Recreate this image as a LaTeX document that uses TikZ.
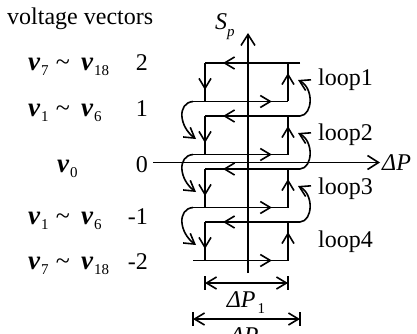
\documentclass[tikz,border=0pt]{standalone}
\usepackage{fontspec}
\setmainfont{Liberation Serif}
\usetikzlibrary{arrows.meta,decorations.markings}
\newcommand\vsub[1]{{\fontsize{27}{28}\selectfont\bfseries\itshape v}\kern1pt\raisebox{-5pt}{\fontsize{15}{16}\selectfont #1}}
\tikzset{
  >={Straight Barb[length=10pt,width=12pt]},
  ln/.style={line width=1.6pt},
  midtip/.style={postaction={decorate,decoration={markings,mark=at position #1 with {\arrow{>}}}}},
  lbl/.style={inner sep=0pt,font=\fontsize{24}{26}\selectfont},
}
\begin{document}
\begin{tikzpicture}[x=1pt,y=-1pt]
\useasboundingbox (0,0) rectangle (417,334);
\clip (0,0) rectangle (417,334);
% axes
\coordinate (yb) at (248,273);
\coordinate (yt) at (248,33);
\coordinate (xl) at (153,162.5);
\coordinate (xr) at (380,162.5);
\draw[ln,->,>={Straight Barb[length=11pt,width=14pt]}] (yb) -- (yt);
\draw[ln,->,>={Straight Barb[length=11pt,width=14pt]}] (xl) -- (xr);
\node[lbl,anchor=base west] (sp) at (215,30) {\textit{S}\raisebox{-7pt}{\fontsize{15}{16}\selectfont\textit{p}}};
\node[lbl,anchor=base west] (dp) at (382,170) {\textit{ΔP}};
% loops
\foreach \T/\B/\n in {63/101.5/1,116/154.5/2,169/207.5/3,222/260.5/4}{
  \coordinate (ul\n) at (300,\T);
  \coordinate (tl\n) at (205,\T);
  \coordinate (bl\n) at (205,\B);
  \coordinate (le\n) at (193,\B);
  \coordinate (br\n) at (288,\B);
  \coordinate (tr\n) at (288,\T);
  \draw[ln,midtip=0.81] (ul\n) -- (tl\n);
  \draw[ln,midtip=0.70] (tl\n) -- (bl\n);
  \draw[ln,midtip=0.83] (le\n) -- (br\n);
  \draw[ln,midtip=0.74] (br\n) -- (tr\n);
}
% jump arrows
\foreach \B in {101.5,154.5,207.5}{
  \draw[ln,->] (193,\B) .. controls (177,\B+1.5) and (179,\B+25) .. (196,\B+37.5);
}
\foreach \T in {116,169,222}{
  \draw[ln,->] (300,\T) .. controls (313,\T-1) and (314,\T-28) .. (298,\T-36);
}
% loop labels
\node[lbl,anchor=base west] (lp1) at (318,86) {loop1};
\node[lbl,anchor=base west] (lp2) at (318,140) {loop2};
\node[lbl,anchor=base west] (lp3) at (318,194) {loop3};
\node[lbl,anchor=base west] (lp4) at (318,247) {loop4};
% dimensions
\coordinate (d1l) at (205,283);
\coordinate (d1r) at (288,283);
\draw[ln,<->] (d1l) -- (d1r);
\draw[ln] (205,276) -- (205,290) (288,276) -- (288,290);
\node[lbl,anchor=base] (d1) at (246,307) {\textit{ΔP}\kern2pt\raisebox{-6pt}{\fontsize{15}{16}\selectfont 1}};
\coordinate (d2l) at (193,319);
\coordinate (d2r) at (300,319);
\draw[ln,<->] (d2l) -- (d2r);
\draw[ln] (193,312) -- (193,326) (300,312) -- (300,326);
\node[lbl,anchor=base] (d2) at (249,343) {\textit{ΔP}\kern2pt\raisebox{-6pt}{\fontsize{15}{16}\selectfont 2}};
% left labels
\node[lbl,anchor=base west] (title) at (7,25) {voltage vectors};
\foreach \y/\a/\b/\num/\nm in {71/7/18/2/r2,117/1/6/1/r1,224/1/6/-1/rm1,269/7/18/-2/rm2}{
  \node[lbl,anchor=base west] (\nm a) at (28,\y) {\vsub{\a}};
  \node[lbl,anchor=base,font=\fontsize{26}{26}\selectfont] (\nm t) at (63,\y) {\textasciitilde};
  \node[lbl,anchor=base west] (\nm b) at (81,\y) {\vsub{\b}};
  \node[lbl,anchor=base east] (\nm n) at (148,\y) {\num};
}
\node[lbl,anchor=base west] (r0a) at (57,172) {\vsub{0}};
\node[lbl,anchor=base east] (r0n) at (148,172) {0};
\end{tikzpicture}
\end{document}
